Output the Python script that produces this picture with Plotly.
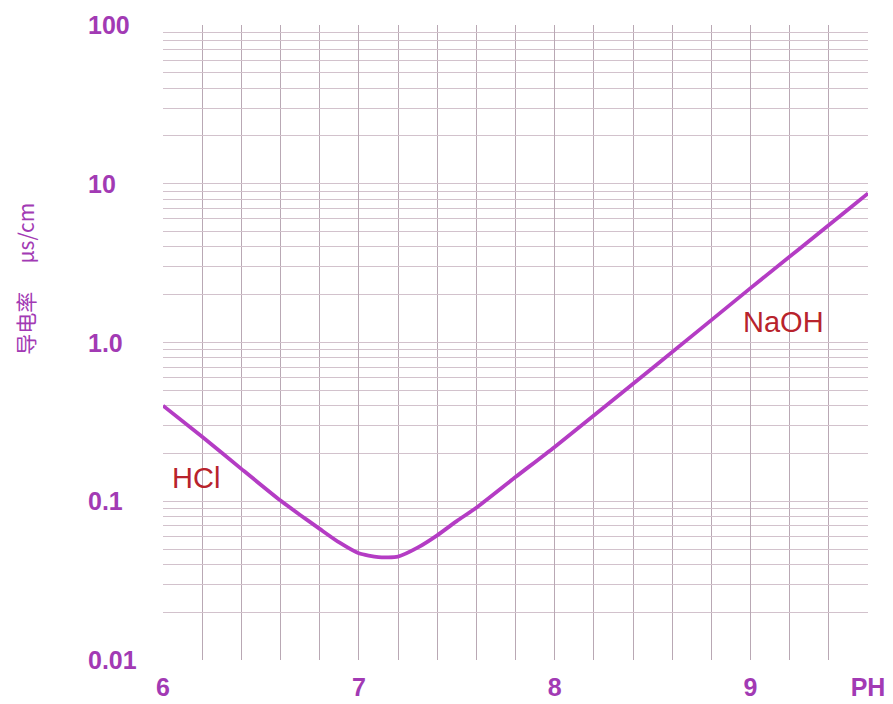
import math
import plotly.graph_objects as go

# Conductivity curve
ph = [6.0, 6.2, 6.4, 6.6, 6.7, 6.8, 6.9, 7.0, 7.1, 7.2, 7.3, 7.4, 7.5, 7.6, 7.8, 8.0, 8.5, 9.0, 9.5, 9.6]
conductivity = [0.40, 0.255, 0.16, 0.101, 0.082, 0.067, 0.055, 0.047, 0.0445, 0.0448, 0.051, 0.061, 0.075, 0.091, 0.142, 0.22, 0.69, 2.2, 6.9, 8.7]

x_tickvals = [6, 7, 8, 9, 9.6]
x_ticktext = ["6", "7", "8", "9", "PH"]
y_tickvals = [0.01, 0.1, 1, 10, 100]
y_ticktext = ["0.01", "0.1", "1.0", "10", "100"]

labels = ["HCl", "NaOH"]
label_x = [6.17, 9.17]
label_y = [0.14, 1.35]

curve_color = "#b43cc4"
tick_color = "#a23ab4"
grid_color = "#d2c2cc"
vgrid_color = "#b9a8b4"
label_color = "#b8232c"

fig = go.Figure()
fig.add_trace(go.Scatter(
    x=ph, y=conductivity, mode="lines",
    line=dict(color=curve_color, width=3.8, shape="spline", smoothing=0.6),
    hoverinfo="skip", showlegend=False,
))

for t, xx, yy in zip(labels, label_x, label_y):
    fig.add_annotation(x=xx, y=math.log10(yy), xref="x", yref="y", text=t, showarrow=False,
                       font=dict(family="Liberation Sans, Arial", size=29, color=label_color))

# y tick labels, left aligned as in the reference
for v, t in zip(y_tickvals, y_ticktext):
    fig.add_annotation(x=-0.109, y=math.log10(v), xref="paper", yref="y", text=t,
                       xanchor="left", yanchor="middle", showarrow=False,
                       font=dict(family="Liberation Sans, Arial", size=25, color=tick_color, weight="bold"))

fig.add_annotation(x=-0.196, y=0.60, xref="paper", yref="paper",
                   xanchor="center", yanchor="middle",
                   text="导电率&nbsp;&nbsp;&nbsp;&nbsp;&nbsp;&nbsp;μs/cm",
                   textangle=-90, showarrow=False,
                   font=dict(family="Noto Sans CJK SC, Liberation Sans", size=21, color=tick_color))

fig.update_layout(
    width=893, height=704,
    margin=dict(l=163, r=25, t=25, b=44),
    paper_bgcolor="white", plot_bgcolor="white",
    xaxis=dict(
        range=[6, 9.6], tickvals=x_tickvals, ticktext=x_ticktext, automargin=False,
        showgrid=True, gridcolor=vgrid_color, gridwidth=1.2,
        zeroline=False, showline=False, ticks="",
        ticklabelstandoff=10,
        tickfont=dict(family="Liberation Sans, Arial", size=25, color=tick_color, weight="bold"),
        minor=dict(dtick=0.2, tick0=6, showgrid=True, gridcolor=vgrid_color, gridwidth=1.2),
    ),
    yaxis=dict(
        type="log", range=[-2, 2], tickvals=y_tickvals, showticklabels=False, automargin=False,
        showgrid=True, gridcolor=grid_color, gridwidth=1.2, zeroline=False, showline=False, ticks="",
        minor=dict(dtick="D1", showgrid=True, gridcolor=grid_color, gridwidth=1.1),
    ),
)

fig.write_html("out.html", config={"displayModeBar": False},
               post_script="document.body.style.margin='0';")
